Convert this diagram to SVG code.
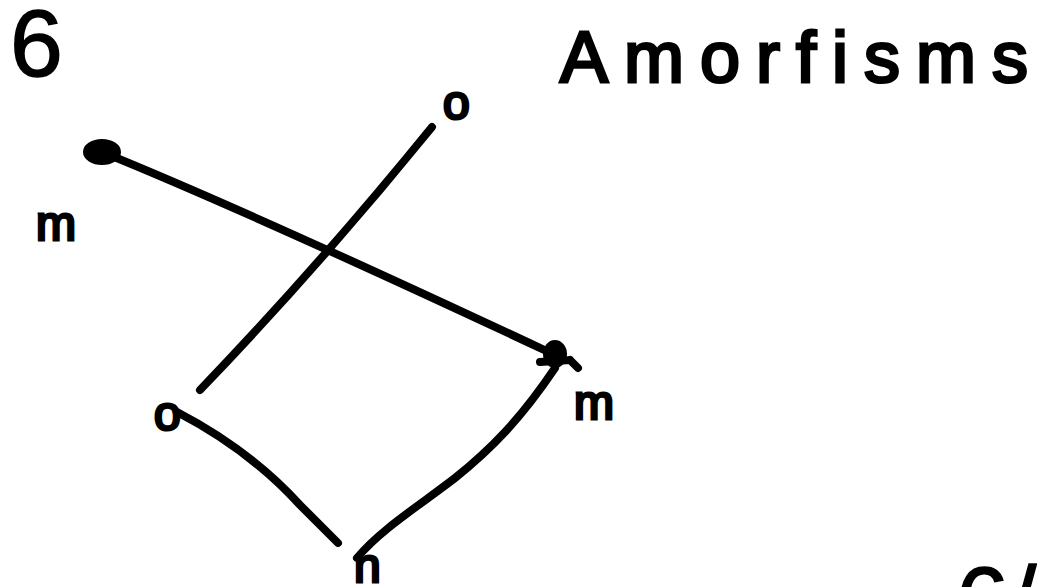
<svg xmlns="http://www.w3.org/2000/svg" width="1037" height="587" viewBox="0 0 1037 587">
<style>
.ink{fill:none;stroke:#000;stroke-width:8;stroke-linecap:round;stroke-linejoin:round}
.dot{fill:#000;stroke:#000;stroke-width:4}
.big{font-family:"Liberation Sans",Arial,sans-serif;font-size:95px;fill:#000;stroke:#000;stroke-width:1.5}
.lbl{font-family:"Liberation Sans",Arial,sans-serif;font-size:48px;fill:#000;stroke:#000;stroke-width:3}
.title{font-family:"Liberation Sans",Arial,sans-serif;font-size:72px;fill:#000;stroke:#000;stroke-width:3}
</style>
<rect width="1037" height="587" fill="#fff"/>
<g id="title">
<text class="big" x="10" y="76">6</text>
<text class="title" x="560" y="82" textLength="468" lengthAdjust="spacing">Amorfisms</text>
<text class="big" x="956" y="633">6<tspan x="1010">/</tspan></text>
</g>
<g id="connectors">
<path class="ink" d="M102,152 Q 250,212 555,355"/>
<path class="ink" d="M200,390 Q 320,265 432,127"/>
<path class="ink" d="M177,412 Q 250,450 300,505 L 338,543"/>
<path class="ink" d="M357,558 C 380,530 420,505 455,478 C 490,450 520,420 555,368"/>
</g>
<g id="node-v1">
<ellipse class="dot" cx="102" cy="152" rx="17" ry="11"/>
<text class="lbl" x="36" y="240">m</text>
</g>
<g id="node-v2">
<text class="lbl" x="443" y="119">o</text>
</g>
<g id="node-v3">
<ellipse class="dot" cx="555" cy="354" rx="10" ry="12"/>
<path class="ink" d="M540,362 L 570,360 M 570,360 L 578,368"/>
<text class="lbl" x="574" y="419">m</text>
</g>
<g id="node-v4">
<text class="lbl" x="154" y="430">o</text>
</g>
<g id="node-v5">
<text class="lbl" x="354" y="582">n</text>
</g>
</svg>
